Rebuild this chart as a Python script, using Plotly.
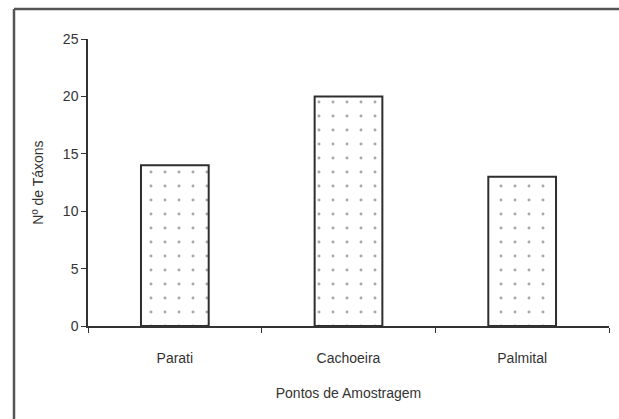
import plotly.graph_objects as go

# Number of taxa per sampling point
pontos = ["Parati", "Cachoeira", "Palmital"]
taxons = [14, 20, 13]
y_ticks = [0, 5, 10, 15, 20, 25]

font_family = "Liberation Sans Narrow, Arial Narrow, Liberation Sans, Arial, sans-serif"
ink = "#333333"

fig = go.Figure(
    go.Bar(
        x=pontos,
        y=taxons,
        marker=dict(
            color="white",
            line=dict(color="#2e2e2e", width=2),
            pattern=dict(shape=".", size=14, solidity=0.035,
                         fgcolor="#505050", bgcolor="white"),
        ),
    )
)

# paper coordinates of the outer frame edges
fx0, fx1 = -74 / 521, 607 / 521
fy_top = (326 - 9) / 287

fig.update_layout(
    width=619,
    height=419,
    margin=dict(l=88, r=10, t=39, b=93),
    paper_bgcolor="white",
    plot_bgcolor="white",
    bargap=0.61,
    showlegend=False,
    font=dict(family=font_family, size=14, color=ink),
    shapes=[
        dict(type="line", xref="paper", yref="paper",
             x0=fx0, x1=fx0, y0=-0.5, y1=fy_top,
             line=dict(color="#555555", width=2.5)),
        dict(type="line", xref="paper", yref="paper",
             x0=fx0, x1=fx1 + 0.01, y0=fy_top, y1=fy_top,
             line=dict(color="#555555", width=2.5)),
        dict(type="line", xref="paper", yref="paper",
             x0=fx1, x1=fx1, y0=-0.5, y1=fy_top,
             line=dict(color="#bbbbbb", width=1)),
    ],
)

fig.update_xaxes(
    type="category",
    showline=True, linecolor="#333333", linewidth=1.5,
    ticks="outside", tickson="boundaries", ticklen=5, tickcolor="#333333",
    ticklabelstandoff=18,
    tickfont=dict(size=14, color=ink),
    showgrid=False, zeroline=False,
    title=dict(text="Pontos de Amostragem", font=dict(size=14, color=ink), standoff=24),
)

fig.update_yaxes(
    range=[0, 25],
    tickvals=y_ticks,
    showline=True, linecolor="#333333", linewidth=1.5,
    ticks="outside", ticklen=5, tickcolor="#333333",
    tickfont=dict(size=14, color=ink),
    showgrid=False, zeroline=False,
    title=dict(text="Nº de Táxons", font=dict(size=14, color=ink), standoff=16),
)

fig.write_html("out.html")
